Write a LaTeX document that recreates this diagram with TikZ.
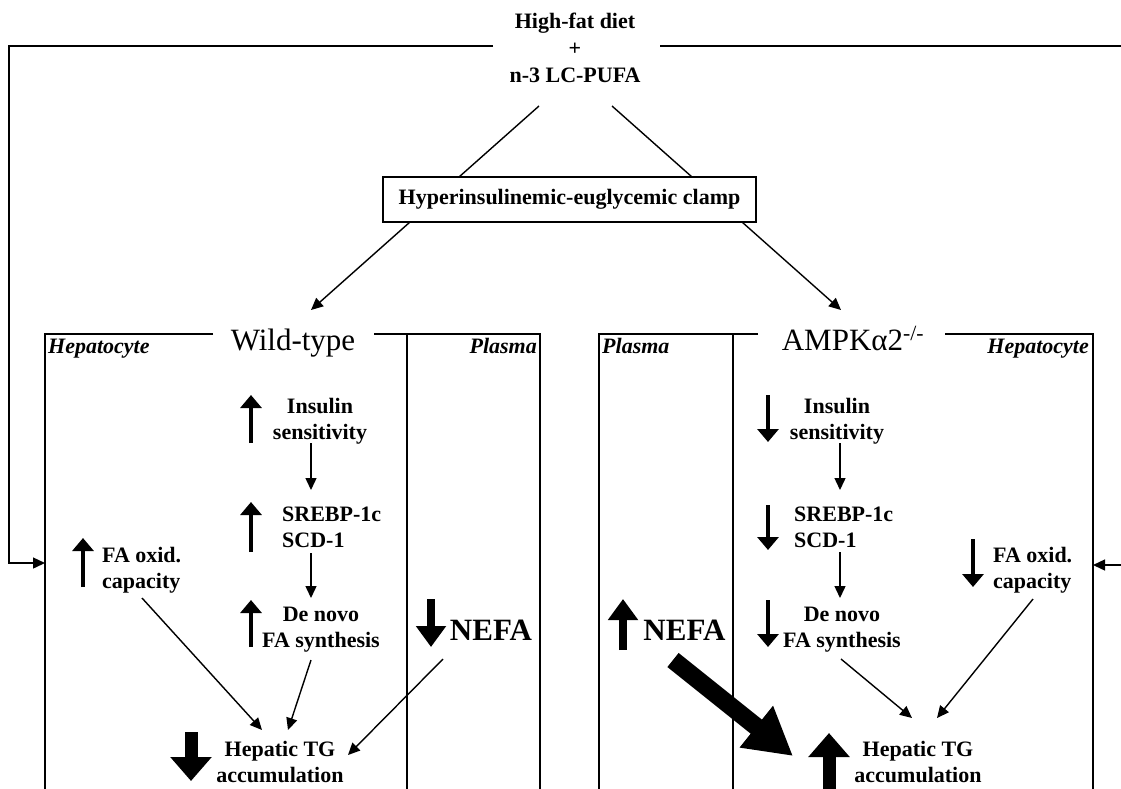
\documentclass[tikz,border=0pt]{standalone}
\usepackage{fontspec}
\setmainfont{Liberation Serif}
\usetikzlibrary{arrows.meta}
\begin{document}
\begin{tikzpicture}[x=1pt,y=-1pt,
  txt/.style={font=\fontsize{22}{26}\selectfont\bfseries, inner sep=0pt, align=center},
  txtl/.style={font=\fontsize{22}{26}\selectfont\bfseries, inner sep=0pt, align=left},
  sidelbl/.style={font=\fontsize{22}{26}\selectfont\bfseries\itshape, inner sep=0pt},
  geno/.style={font=\fontsize{31}{36}\selectfont, inner sep=0pt},
  nefatxt/.style={font=\fontsize{31}{36}\selectfont\bfseries, inner sep=0pt},
  boxline/.style={line width=1.8pt},
  plainline/.style={line width=1.4pt},
  conn/.style={line width=1.4pt, -{Triangle[width=11pt,length=12pt]}},
  indarr/.style={line width=4.5pt, -{Triangle[width=21pt,length=13pt]}},
  nefaarr/.style={line width=8pt, -{Triangle[width=29pt,length=21pt]}},
  bigarr/.style={line width=13pt, -{Triangle[width=40pt,length=24pt]}},
  hugearr/.style={line width=18pt, -{Triangle[width=50pt,length=47pt]}},
]
\useasboundingbox (0,0) rectangle (1121,788);

% ---------- top ----------
\node[txt, font=\fontsize{22}{27}\selectfont\bfseries] (diet) at (575,47.5) {High-fat diet\\+\\n-3 LC-PUFA};
\node[draw, boxline, inner sep=0pt, minimum width=373pt, minimum height=45pt,
      font=\fontsize{22}{26}\selectfont\bfseries] (clamp) at (569.5,199.5) {Hyperinsulinemic-euglycemic clamp};

\coordinate (dl) at (539,106);
\coordinate (dr) at (612,106);
\coordinate (cl) at (459,177);
\coordinate (cr) at (692,177);
\draw[plainline] (dl) -- (cl);
\draw[plainline] (dr) -- (cr);

\coordinate (clo) at (410,222);
\coordinate (cro) at (742,222);
\coordinate (wtt) at (311,310);
\coordinate (kot) at (841,310);
\draw[conn] (clo) -- (wtt);
\draw[conn] (cro) -- (kot);

% feedback lines
\coordinate (fl0) at (493,46);
\coordinate (fl1) at (9,46);
\coordinate (fl2) at (9,563);
\coordinate (fl3) at (45,563);
\draw[conn] (fl0) -- (fl1) -- (fl2) -- (fl3);
\coordinate (fr0) at (660,46);
\coordinate (fr1) at (1121,46);
\draw[plainline] (fr0) -- (fr1);
\coordinate (fr2) at (1121,565);
\coordinate (fr3) at (1093,565);
\draw[conn] (fr2) -- (fr3);

% ---------- Wild-type frame ----------
\draw[boxline] (213,334) -- (45,334) -- (45,790);
\draw[boxline] (374,334) -- (540,334) -- (540,790);
\draw[boxline] (407,334) -- (407,790);
\node[geno, anchor=base] (wt) at (293,350) {Wild-type};
\node[sidelbl, anchor=base west] (hep1) at (48,353) {Hepatocyte};
\node[sidelbl, anchor=base east] (pla1) at (537,353) {Plasma};

% ---------- AMPK frame ----------
\draw[boxline] (758,334) -- (599,334) -- (599,790);
\draw[boxline] (945,334) -- (1093,334) -- (1093,790);
\draw[boxline] (733,334) -- (733,790);
\node[geno, anchor=base] (ko) at (853,350) {AMPKα2\textsuperscript{-/-}};
\node[sidelbl, anchor=base west] (pla2) at (602,353) {Plasma};
\node[sidelbl, anchor=base east] (hep2) at (1089,353) {Hepatocyte};

% ---------- Wild-type content ----------
\node[txt] (ins1) at (320,421) {Insulin\\sensitivity};
\node[txtl, anchor=west] (sre1) at (282,527.5) {SREBP-1c\\SCD-1};
\node[txt] (dnv1) at (321,630) {De novo\\FA synthesis};
\node[txtl, anchor=west] (fao1) at (102,570) {FA oxid.\\capacity};
\node[txt] (tg1) at (280,761.5) {Hepatic TG\\accumulation};
\node[nefatxt, anchor=base] (nef1) at (491,640) {NEFA};

\draw[indarr] (251,443) -- (251,395);
\draw[indarr] (251,552) -- (251,502);
\draw[indarr] (251,647) -- (251,600);
\draw[indarr] (83,587) -- (83,538);
\draw[nefaarr] (431,599) -- (431,647);
\draw[bigarr] (191,732) -- (191,781);

\coordinate (a1s) at (311,443);
\coordinate (a1e) at (311,490);
\coordinate (a2s) at (311,553);
\coordinate (a2e) at (311,598);
\draw[conn] (a1s) -- (a1e);
\draw[conn] (a2s) -- (a2e);
\coordinate (b1s) at (142,598);
\coordinate (b1e) at (262,730);
\coordinate (b2s) at (311,660);
\coordinate (b2e) at (288,730);
\coordinate (b3s) at (443,659);
\coordinate (b3e) at (348,755);
\draw[conn] (b1s) -- (b1e);
\draw[conn] (b2s) -- (b2e);
\draw[conn] (b3s) -- (b3e);

% ---------- AMPK content ----------
\node[txt] (ins2) at (837,421) {Insulin\\sensitivity};
\node[txtl, anchor=west] (sre2) at (794,527.5) {SREBP-1c\\SCD-1};
\node[txt] (dnv2) at (842,630) {De novo\\FA synthesis};
\node[txtl, anchor=west] (fao2) at (993,570) {FA oxid.\\capacity};
\node[txt] (tg2) at (918,761.5) {Hepatic TG\\accumulation};
\node[nefatxt, anchor=base] (nef2) at (684.5,640) {NEFA};

\draw[indarr] (768,395) -- (768,442);
\draw[indarr] (768,505) -- (768,550);
\draw[indarr] (768,600) -- (768,647);
\draw[indarr] (973,539) -- (973,587);
\draw[nefaarr] (623,650) -- (623,599);
\draw[bigarr] (829,790) -- (829,733);

\coordinate (c1s) at (840,443);
\coordinate (c1e) at (840,490);
\coordinate (c2s) at (840,552);
\coordinate (c2e) at (840,598);
\draw[conn] (c1s) -- (c1e);
\draw[conn] (c2s) -- (c2e);
\coordinate (d1s) at (841,659);
\coordinate (d1e) at (912,718);
\coordinate (d2s) at (1033,599);
\coordinate (d2e) at (937,718);
\draw[conn] (d1s) -- (d1e);
\draw[conn] (d2s) -- (d2e);
\coordinate (hs) at (673,660);
\coordinate (he) at (793,756);
\draw[hugearr] (hs) -- (he);
\end{tikzpicture}
\end{document}
